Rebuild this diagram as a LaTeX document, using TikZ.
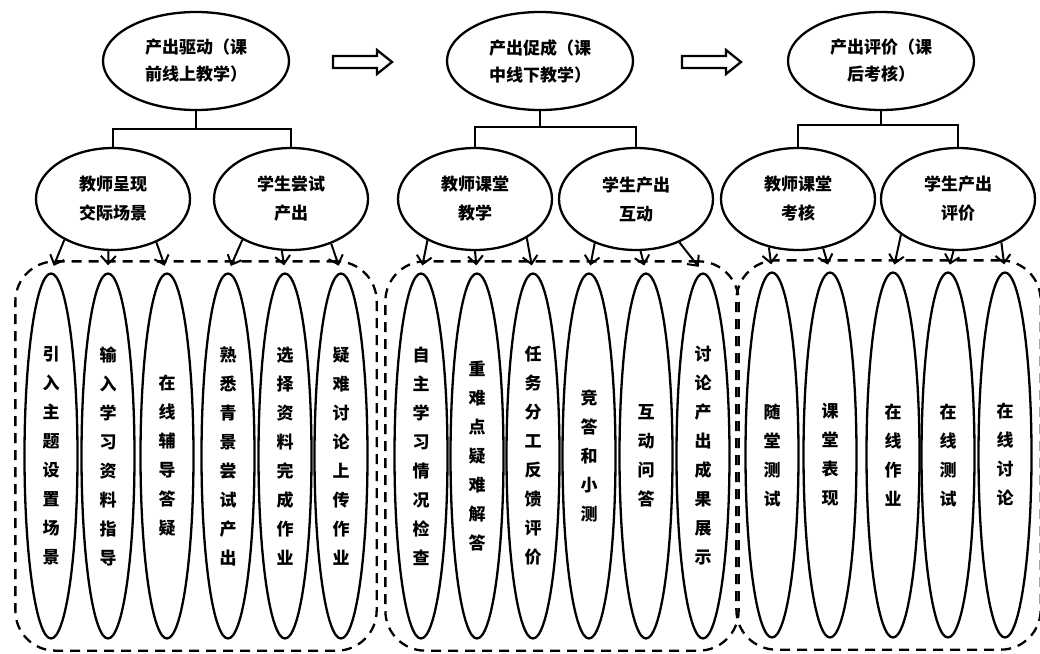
\documentclass[tikz,border=0pt]{standalone}
\usepackage{fontspec}
\setmainfont{Noto Sans CJK SC}
\usetikzlibrary{positioning,fit,shapes,arrows.meta}

\begin{document}
\begin{tikzpicture}[x=1pt,y=-1pt,line width=2.3pt,
  stage/.style={ellipse,draw,minimum width=186pt,minimum height=98pt,inner sep=0pt,align=center,font=\bfseries\fontsize{17}{27}\selectfont},
  role/.style={ellipse,draw,minimum width=154pt,minimum height=102pt,inner sep=0pt,align=center,font=\bfseries\fontsize{17}{29}\selectfont},
  task/.style={ellipse,draw,minimum width=53pt,minimum height=365pt,inner sep=0pt,align=center,font=\bfseries\fontsize{17}{29}\selectfont},
  grp/.style={draw,rounded corners=40pt,inner xsep=8pt,inner ysep=11pt,dash pattern=on 10pt off 7pt},
  link/.style={line width=2pt,-{Straight Barb[length=8pt,width=15pt]},shorten >=7pt}]
\useasboundingbox (0,0) rectangle (1040,653);
% three stages
\node[stage] (E1) at (196,61) {产出驱动（课\\前线上教学）};
\node[stage] (E2) at (540,61) {产出促成（课\\中线下教学）};
\node[stage] (E3) at (881,61) {产出评价（课\\后考核）};
\coordinate (R1) at (333,62);
\coordinate (R2) at (682,62);
\foreach \r in {R1,R2}
  \draw (\r) ++(0,-6) -- ++(44,0) -- ++(0,-6) -- ++(15,12) -- ++(-15,12) -- ++(0,-6) -- ++(-44,0) -- cycle;
% teacher / student
\node[role] (A1) at (113,199) {教师呈现\\交际场景};
\node[role] (A2) at (291,199) {学生尝试\\产出};
\node[role] (B1) at (475,199) {教师课堂\\教学};
\node[role] (B2) at (636,199) {学生产出\\互动};
\node[role] (C1) at (798,199) {教师课堂\\考核};
\node[role] (C2) at (958,199) {学生产出\\评价};
\draw (E1.south) -- ++(0,18) -| (A1.north);
\draw (E1.south) -- ++(0,18) -| (A2.north);
\draw (E2.south) -- ++(0,16) -| (B1.north);
\draw (E2.south) -- ++(0,16) -| (B2.north);
\draw (E3.south) -- ++(0,14) -| (C1.north);
\draw (E3.south) -- ++(0,14) -| (C2.north);
% activities
\node[task] (L1) at (51,456) {引\\入\\主\\题\\设\\置\\场\\景};
\node[task] (L2) at (108,456) {输\\入\\学\\习\\资\\料\\指\\导};
\node[task] (L3) at (167,456) {在\\线\\辅\\导\\答\\疑};
\node[task] (L4) at (228,456) {熟\\悉\\青\\景\\尝\\试\\产\\出};
\node[task] (L5) at (285,456) {选\\择\\资\\料\\完\\成\\作\\业};
\node[task] (L6) at (341,456) {疑\\难\\讨\\论\\上\\传\\作\\业};
\node[task] (M1) at (421,456) {自\\主\\学\\习\\情\\况\\检\\查};
\node[task] (M2) at (477,456) {重\\难\\点\\疑\\难\\解\\答};
\node[task] (M3) at (533,456) {任\\务\\分\\工\\反\\馈\\评\\价};
\node[task] (M4) at (589,456) {竞\\答\\和\\小\\测};
\node[task] (M5) at (646,456) {互\\动\\问\\答};
\node[task] (M6) at (703,456) {讨\\论\\产\\出\\成\\果\\展\\示};
\node[task] (N1) at (772,455) {随\\堂\\测\\试};
\node[task] (N2) at (830,455) {课\\堂\\表\\现};
\node[task] (N3) at (893,455) {在\\线\\作\\业};
\node[task] (N4) at (948,455) {在\\线\\测\\试};
\node[task] (N5) at (1005,455) {在\\线\\讨\\论};
\node[grp, fit=(L1)(L6)] (G1) {};
\node[grp, fit=(M1)(M6)] (G2) {};
\node[grp, fit=(N1)(N5)] (G3) {};
% arrows down
\draw[link] (A1.220) -- (L1.north);
\draw[link] (A1.265) -- (L2.north);
\draw[link] (A1.315) -- (L3.north);
\draw[link] (A2.220) -- (L4.north);
\draw[link] (A2.260) -- (L5.north);
\draw[link] (A2.312) -- (L6.north);
\draw[link] (B1.221) -- (M1.north);
\draw[link] (B1.270) -- (M2.north);
\draw[link] (B1.323) -- (M3.north);
\draw[link] (B2.227) -- (M4.north);
\draw[link] (B2.275) -- (M5.north);
\draw[link] (B2.315) -- (M6.north);
\draw[link] (C1.239) -- (N1.north);
\draw[link] (C1.297) -- (N2.north);
\draw[link] (C2.212) -- (N3.north);
\draw[link] (C2.265) -- (N4.north);
\draw[link] (C2.315) -- (N5.north);
\end{tikzpicture}
\end{document}
